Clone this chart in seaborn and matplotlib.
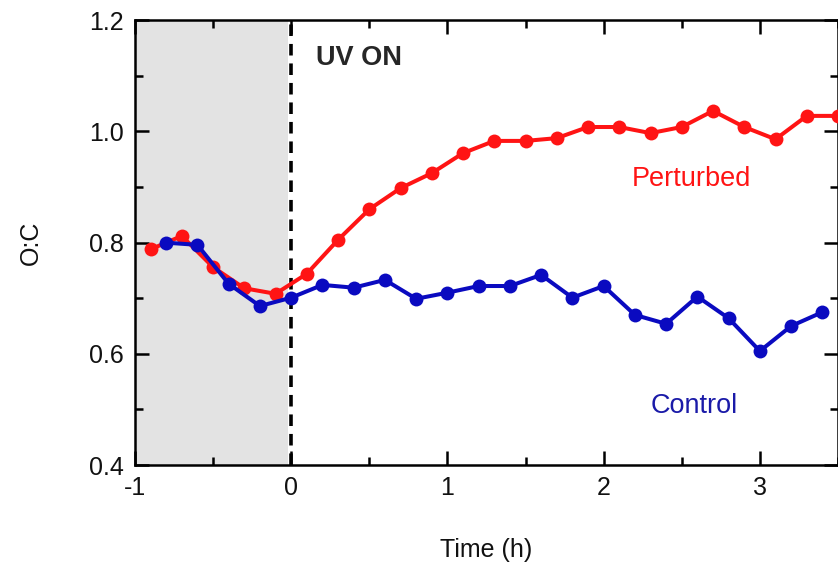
import numpy as np
import pandas as pd
import seaborn as sns
import matplotlib.pyplot as plt
from matplotlib.ticker import MultipleLocator

# --- data ---
perturbed_time = [-0.9, -0.7, -0.5, -0.3, -0.1, 0.1, 0.3, 0.5, 0.7, 0.9, 1.1, 1.3,
                  1.5, 1.7, 1.9, 2.1, 2.3, 2.5, 2.7, 2.9, 3.1, 3.3, 3.5]
perturbed_oc = [0.788, 0.812, 0.756, 0.718, 0.708, 0.744, 0.805, 0.860, 0.898, 0.925,
                0.961, 0.983, 0.983, 0.988, 1.008, 1.008, 0.997, 1.008, 1.037, 1.008,
                0.986, 1.028, 1.028]

control_time = [-0.8, -0.6, -0.4, -0.2, 0.0, 0.2, 0.4, 0.6, 0.8, 1.0, 1.2, 1.4,
                1.6, 1.8, 2.0, 2.2, 2.4, 2.6, 2.8, 3.0, 3.2, 3.4]
control_oc = [0.800, 0.796, 0.726, 0.686, 0.701, 0.724, 0.719, 0.733, 0.699, 0.710,
              0.722, 0.722, 0.742, 0.701, 0.722, 0.670, 0.654, 0.703, 0.664, 0.605,
              0.650, 0.675]

df = pd.concat([
    pd.DataFrame({"time": perturbed_time, "oc": perturbed_oc, "run": "Perturbed"}),
    pd.DataFrame({"time": control_time, "oc": control_oc, "run": "Control"}),
])

sns.set_theme(style="ticks")
plt.rcParams['font.family'] = ['Liberation Sans', 'DejaVu Sans']

fig = plt.figure(figsize=(8.38, 5.63), dpi=100)
ax = fig.add_axes([0.161, 0.174, 0.839, 0.790])

# dark period before the lamp is switched on
ax.axvspan(-1, -0.02, color="#e3e3e3", lw=0, zorder=0)
ax.axvline(0, color="black", ls=(0, (3.2, 2.2)), lw=2.6, zorder=1)

sns.lineplot(data=df, x="time", y="oc", hue="run",
             palette={"Perturbed": "#ff1414", "Control": "#0a0ac0"},
             hue_order=["Perturbed", "Control"],
             marker="o", markersize=10, markeredgewidth=0, lw=2.9,
             sort=False, legend=False, ax=ax, zorder=3)

ax.set_xlim(-1, 3.5)
ax.set_ylim(0.4, 1.2)
ax.xaxis.set_major_locator(MultipleLocator(1))
ax.xaxis.set_minor_locator(MultipleLocator(0.5))
ax.yaxis.set_major_locator(MultipleLocator(0.2))
ax.yaxis.set_minor_locator(MultipleLocator(0.1))
ax.xaxis.set_major_formatter(plt.FuncFormatter(lambda v, p: f"{v:.0f}"))
ax.yaxis.set_major_formatter(plt.FuncFormatter(lambda v, p: f"{v:.1f}"))

ax.tick_params(which="both", direction="in", top=True, right=True,
               width=1.8, color="black", labelsize=18, labelcolor="#111111")
ax.tick_params(which="major", length=10, pad=8)
ax.tick_params(which="minor", length=6)
for s in ax.spines.values():
    s.set_linewidth(1.8)
    s.set_color("black")

ax.set_xlabel("Time (h)", fontsize=18, labelpad=27, color="#111111")
ax.set_ylabel("O:C", fontsize=18, labelpad=33, color="#111111")

ax.text(0.16, 1.132, "UV ON", fontsize=19.5, fontweight="bold", va="center", ha="left")
ax.text(2.56, 0.915, "Perturbed", fontsize=19.5, color="#ff1414", va="center", ha="center")
ax.text(2.58, 0.507, "Control", fontsize=19.5, color="#1a1aa8", va="center", ha="center")

fig.savefig("out.png", dpi=100)
